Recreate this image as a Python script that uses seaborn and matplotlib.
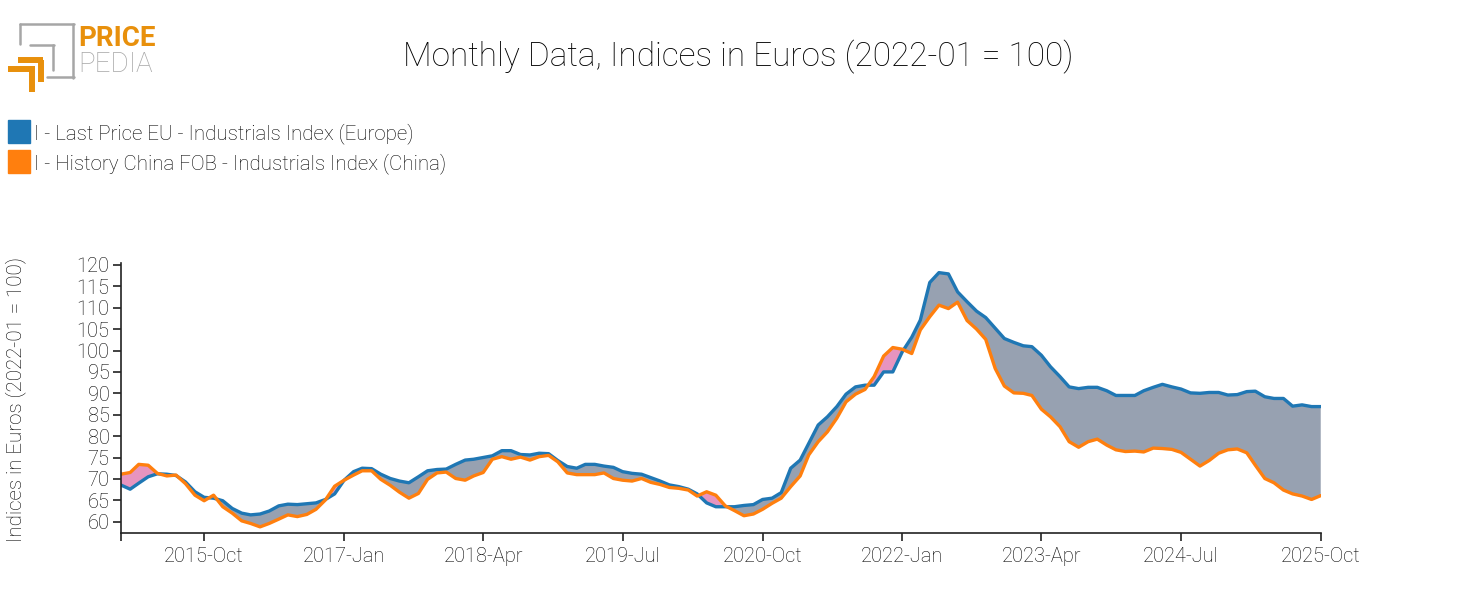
import numpy as np
import pandas as pd
import matplotlib
matplotlib.use("Agg")
import matplotlib.pyplot as plt
import matplotlib.dates as mdates
from matplotlib.patches import Rectangle
from matplotlib.lines import Line2D
import seaborn as sns

# dati mensili 2015-01 .. 2025-10
months = pd.date_range("2015-01-01", "2025-10-01", freq="MS")

europe = [
    68.6, 67.6, 69.0, 70.5, 71.2, 71.1, 70.8, 69.3, 67.0, 65.7,
    65.5, 64.9, 63.1, 62.0, 61.6, 61.8, 62.5, 63.7, 64.1, 64.0,
    64.2, 64.4, 65.2, 66.5, 69.7, 71.7, 72.5, 72.4, 71.1, 70.1,
    69.5, 69.1, 70.5, 71.9, 72.2, 72.3, 73.4, 74.4, 74.6, 75.0,
    75.4, 76.6, 76.6, 75.7, 75.6, 76.0, 75.9, 74.3, 72.9, 72.5,
    73.4, 73.4, 73.0, 72.7, 71.7, 71.3, 71.1, 70.3, 69.5, 68.6,
    68.2, 67.6, 66.5, 64.4, 63.5, 63.5, 63.5, 63.8, 64.0, 65.2,
    65.5, 66.8, 72.5, 74.4, 78.3, 82.6, 84.5, 86.9, 89.8, 91.5,
    91.9, 91.9, 95.0, 95.0, 99.7, 103.1, 107.1, 115.9, 118.2, 117.9,
    113.7, 111.4, 109.2, 107.7, 105.2, 102.8, 101.9, 101.1, 100.9, 98.9,
    96.2, 93.9, 91.5, 91.1, 91.4, 91.4, 90.6, 89.5, 89.5, 89.5,
    90.6, 91.4, 92.1, 91.5, 91.0, 90.1, 90.0, 90.2, 90.2, 89.6,
    89.7, 90.4, 90.5, 89.2, 88.8, 88.8, 87.0, 87.3, 86.9, 86.9,
]

china = [
    71.1, 71.5, 73.4, 73.2, 71.3, 70.7, 70.9, 68.9, 66.2, 64.9,
    66.2, 63.5, 62.0, 60.2, 59.6, 58.8, 59.6, 60.6, 61.6, 61.2,
    61.7, 62.9, 65.1, 68.3, 69.7, 70.9, 71.9, 71.9, 69.9, 68.5,
    66.9, 65.5, 66.6, 69.9, 71.4, 71.6, 70.1, 69.7, 70.7, 71.5,
    74.6, 75.2, 74.6, 75.1, 74.4, 75.2, 75.5, 74.0, 71.4, 71.0,
    71.0, 71.0, 71.4, 70.1, 69.7, 69.5, 70.1, 69.2, 68.7, 68.0,
    67.8, 67.4, 66.0, 67.0, 66.2, 63.7, 62.6, 61.4, 61.8, 62.9,
    64.3, 65.5, 68.2, 70.7, 75.6, 78.7, 81.0, 84.2, 88.0, 89.8,
    90.9, 93.9, 98.7, 100.7, 100.3, 99.3, 104.8, 107.9, 110.6, 109.8,
    111.3, 107.0, 105.0, 102.6, 95.8, 91.7, 90.1, 90.0, 89.5, 86.3,
    84.5, 82.2, 78.7, 77.4, 78.7, 79.3, 77.9, 76.8, 76.4, 76.5,
    76.3, 77.2, 77.1, 76.9, 76.2, 74.6, 73.0, 74.3, 76.0, 76.8,
    77.0, 76.1, 73.2, 70.1, 69.1, 67.4, 66.5, 66.0, 65.2, 66.1,
]

label_eu = "I - Last Price EU - Industrials Index (Europe)"
label_cn = "I - History China FOB - Industrials Index (China)"

df = pd.DataFrame({"date": months, "eu": europe, "cn": china})

sns.set_style("white")
plt.rcParams["font.family"] = ["Roboto", "DejaVu Sans"]

blue = "#1f77b4"
orange = "#ff7f0e"
grey_fill = "#97a1b1"
pink_fill = "#e794bf"
ink = "#000000"

fig = plt.figure(figsize=(14.77, 6.15), dpi=100)
ax = fig.add_axes([0.0817, 0.1333, 0.8125, 0.439])

eu = df["eu"].to_numpy()
cn = df["cn"].to_numpy()
x = mdates.date2num(df["date"])
ax.fill_between(x, eu, cn, where=eu >= cn, interpolate=True, color=grey_fill, lw=0)
ax.fill_between(x, eu, cn, where=eu < cn, interpolate=True, color=pink_fill, lw=0)

sns.lineplot(data=df, x="date", y="eu", color=blue, lw=2.4, ax=ax, legend=False)
sns.lineplot(data=df, x="date", y="cn", color=orange, lw=2.4, ax=ax, legend=False)

ax.set_xlim(months[0], months[-1])
ax.set_ylim(57.36, 120.44)
ax.set_yticks(np.arange(60, 121, 5))

tick_dates = pd.date_range("2015-10-01", "2025-10-01", freq="15MS")
ax.set_xticks([months[0]] + list(tick_dates))
ax.set_xticklabels([""] + [d.strftime("%Y-%b") for d in tick_dates])

for s in ["top", "right"]:
    ax.spines[s].set_visible(False)
for s in ["left", "bottom"]:
    ax.spines[s].set_color("#222222")
    ax.spines[s].set_linewidth(1.2)
ax.tick_params(axis="both", bottom=True, left=True, direction="out", length=6,
               width=1.2, color="#222222", labelsize=14.4, labelcolor=ink, pad=2)
ax.tick_params(axis="x", pad=4)
for lab in ax.get_xticklabels() + ax.get_yticklabels():
    lab.set_fontweight("light")

ax.set_xlabel("")
ax.set_ylabel("")
fig.text(16 / 1477, 1 - 399 / 615, "Indices in Euros (2022-01 = 100)", rotation=90,
         ha="center", va="center", fontsize=14.8, fontweight="light", color=ink)

fig.text(0.5, 1 - 57 / 615, "Monthly Data, Indices in Euros (2022-01 = 100)",
         ha="center", va="center", fontsize=24, fontweight="light", color=ink)

# legenda
for i, (lab, col) in enumerate([(label_eu, blue), (label_cn, orange)]):
    y0 = 1 - (143 + 30 * i) / 615
    fig.patches.append(Rectangle((8 / 1477, y0), 22 / 1477, 23 / 615,
                                 transform=fig.transFigure, color=col))
    fig.text(34 / 1477, y0 + 9 / 615, lab, ha="left", va="center",
             fontsize=14.8, fontweight="light", color=ink)

# logo
def px(xp, yp):
    return xp / 1477, 1 - yp / 615

gl = "#a6a6a6"
og = "#e8900c"
for (x1, y1), (x2, y2) in [((20, 24), (74, 24)), ((73, 24), (73, 78)),
                           ((20, 24), (20, 44)), ((47, 77), (74, 77)),
                           ((30, 45), (54, 45)), ((53, 45), (53, 70))]:
    a, b = px(x1, y1)
    c, d = px(x2, y2)
    fig.lines.append(Line2D([a, c], [b, d], transform=fig.transFigure, color=gl, lw=1.8))
for (x1, y1), (x2, y2) in [((18, 59.5), (43, 59.5)), ((40.5, 59.5), (40.5, 82)),
                           ((8, 68.5), (35, 68.5)), ((32, 68.5), (32, 92))]:
    a, b = px(x1, y1)
    c, d = px(x2, y2)
    fig.lines.append(Line2D([a, c], [b, d], transform=fig.transFigure, color=og, lw=4.3,
                            solid_capstyle="butt"))
fig.text(*px(78, 39), "PRICE", ha="left", va="center", fontsize=20, fontweight="bold",
         color=og)
fig.text(*px(78, 65), "PEDIA", ha="left", va="center", fontsize=20, fontweight="light",
         color=gl)

fig.savefig("out.png", dpi=100)
